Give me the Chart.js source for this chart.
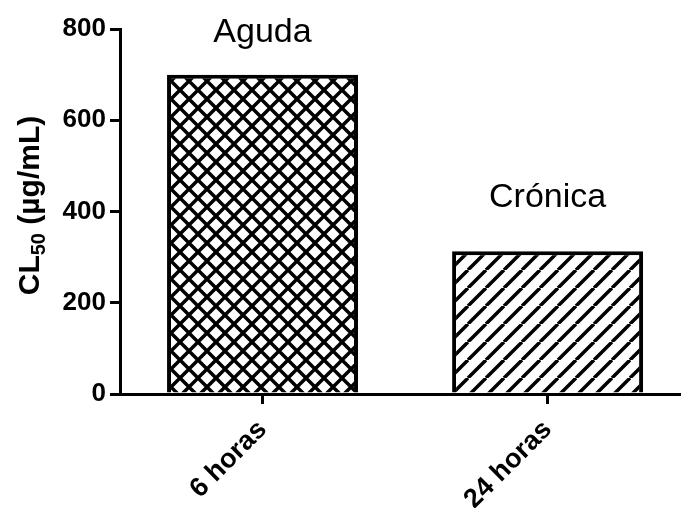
<!DOCTYPE html>
<html>
<head>
<meta charset="utf-8">
<script src="https://cdn.jsdelivr.net/npm/chart.js@4/dist/chart.umd.min.js"></script>
<style>
  html, body { margin: 0; padding: 0; background: #fff; overflow: hidden; }
  #wrap { width: 681px; height: 508px; }
</style>
</head>
<body>
<div id="wrap"><canvas id="cl50Chart" width="681" height="508"></canvas></div>
<script>
// Data
const categories = ['6 horas', '24 horas'];
const xPositions = [1, 2];
const cl50Values = [700, 313];
const barLabels = ['Aguda', 'Crónica'];
const yTicks = [0, 200, 400, 600, 800];

const FONT = '"Liberation Sans", Arial, sans-serif';

// Fill patterns
function makePattern(size, both) {
    const c = document.createElement('canvas');
    c.width = size;
    c.height = size;
    const g = c.getContext('2d');
    g.fillStyle = '#fff';
    g.fillRect(0, 0, size, size);
    g.strokeStyle = '#000';
    g.lineWidth = 3.5;
    g.beginPath();
    [-size, 0, size].forEach(k => {
        // "/" lines
        g.moveTo(k, size);
        g.lineTo(k + size, 0);
        if (both) {
            // "\" lines
            g.moveTo(k, 0);
            g.lineTo(k + size, size);
        }
    });
    g.stroke();
    return g.createPattern(c, 'repeat');
}

const crossHatch = makePattern(18, true);
const diagHatch = makePattern(18, false);

// Y title with subscript
const yTitlePlugin = {
    id: 'yTitle',
    afterDraw(chart) {
        const ctx = chart.ctx;
        const area = chart.chartArea;
        const big = 'bold 30px ' + FONT;
        const small = 'bold 20px ' + FONT;
        ctx.save();
        ctx.font = big;
        const w1 = ctx.measureText('CL').width;
        const w3 = ctx.measureText(' (µg/mL)').width;
        ctx.font = small;
        const w2 = ctx.measureText('50').width;
        const total = w1 + w2 + w3;
        ctx.translate(39, (area.top + area.bottom) / 2 - 6);
        ctx.rotate(-Math.PI / 2);
        ctx.fillStyle = '#000';
        ctx.textBaseline = 'alphabetic';
        let x = -total / 2;
        ctx.font = big;
        ctx.fillText('CL', x, 0);
        x += w1;
        ctx.font = small;
        ctx.fillText('50', x, 6);
        x += w2;
        ctx.font = big;
        ctx.fillText(' (µg/mL)', x, 0);
        ctx.restore();
    }
};

// Text above each bar
const barTextPlugin = {
    id: 'barText',
    afterDatasetsDraw(chart, args, opts) {
        const ctx = chart.ctx;
        const meta = chart.getDatasetMeta(0);
        ctx.save();
        ctx.font = '34px ' + FONT;
        ctx.fillStyle = '#000';
        ctx.textAlign = 'center';
        ctx.textBaseline = 'alphabetic';
        meta.data.forEach((bar, i) => {
            ctx.fillText(barLabels[i], bar.x, bar.y - opts.offsets[i]);
        });
        ctx.restore();
    }
};

new Chart(document.getElementById('cl50Chart'), {
    type: 'bar',
    data: {
        datasets: [{
            data: xPositions.map((x, i) => ({ x: x, y: cl50Values[i] })),
            backgroundColor: [crossHatch, diagHatch],
            borderColor: '#000',
            borderWidth: 4,
            categoryPercentage: 1,
            barPercentage: 0.67
        }]
    },
    options: {
        responsive: false,
        animation: false,
        layout: { padding: { top: 29, left: 0, right: 0, bottom: 0 } },
        plugins: {
            legend: { display: false },
            tooltip: { enabled: false },
            barText: { offsets: [33, 44] }
        },
        scales: {
            x: {
                type: 'linear',
                min: 0.5,
                max: 2.468,
                offset: false,
                afterBuildTicks: axis => { axis.ticks = xPositions.map(v => ({ value: v })); },
                afterFit: axis => { axis.height = 114; },
                border: { display: true, color: '#000', width: 3 },
                grid: { offset: false, drawOnChartArea: false, drawTicks: true, tickLength: 10, color: '#000', lineWidth: 3 },
                ticks: {
                    callback: (value, index) => categories[index],
                    minRotation: 45,
                    maxRotation: 45,
                    autoSkip: false,
                    color: '#000',
                    padding: 10,
                    font: { family: FONT, size: 27, weight: 'bold' }
                }
            },
            y: {
                min: 0,
                max: 800,
                afterBuildTicks: axis => { axis.ticks = yTicks.map(v => ({ value: v })); },
                afterFit: axis => { axis.width = 120; },
                border: { display: true, color: '#000', width: 3 },
                grid: { drawOnChartArea: false, drawTicks: true, tickLength: 10, color: '#000', lineWidth: 3 },
                ticks: {
                    color: '#000',
                    padding: 4,
                    font: { family: FONT, size: 26, weight: 'bold' }
                }
            }
        }
    },
    plugins: [yTitlePlugin, barTextPlugin]
});
</script>
</body>
</html>
